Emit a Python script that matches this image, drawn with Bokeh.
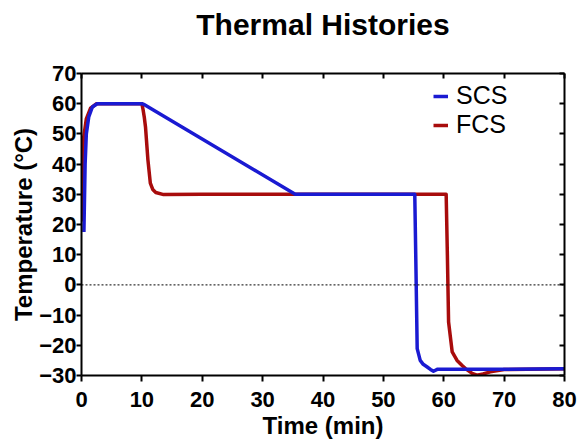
from bokeh.plotting import figure
from bokeh.models import (Range1d, LinearAxis, FixedTicker, Span, Legend, LegendItem, ColumnDataSource)
from bokeh.embed import file_html
from bokeh.resources import INLINE

# ---- data ----
scs_time = [0.4, 0.6, 0.8, 1.2, 1.8, 2.6, 4.0, 10.0, 10.3, 35.4, 40.0, 55.2, 55.4, 55.6, 56.1, 56.6, 57.2, 57.8, 58.3, 59.0, 70.0, 80.0]
scs_temp = [17.5, 40.0, 50.0, 55.6, 58.9, 60.0, 60.0, 60.0, 59.8, 30.0, 30.0, 30.0, 5.0, -21.1, -25.0, -26.3, -27.1, -28.0, -28.6, -27.9, -27.9, -27.8]

fcs_time = [0.0, 0.3, 0.8, 1.5, 2.5, 4.0, 10.0, 10.2, 10.4, 10.6, 11.0, 11.4, 11.8, 12.3, 13.6, 20.0, 60.4, 60.6, 60.8, 61.4, 62.2, 63.0, 63.6, 64.7, 65.5, 66.5, 67.7, 70.0, 80.0]
fcs_temp = [21.0, 48.0, 55.0, 58.5, 60.0, 60.0, 60.0, 58.0, 55.5, 52.3, 41.4, 33.7, 31.6, 30.6, 29.9, 30.0, 30.0, 10.0, -12.3, -22.2, -25.0, -26.6, -27.7, -29.3, -29.9, -29.5, -28.8, -28.0, -27.8]

x_ticks = [0, 10, 20, 30, 40, 50, 60, 70, 80]
y_ticks = [-30, -20, -10, 0, 10, 20, 30, 40, 50, 60, 70]

title_text = "Thermal Histories"

BLUE = "#1a1ad2"
RED = "#a80c0c"
FONT = "Liberation Sans"

p = figure(width=579, height=441, output_backend="svg", toolbar_location=None,
           x_range=Range1d(0, 80), y_range=Range1d(-30, 70),
           min_border_left=81, min_border_right=15, min_border_top=73, min_border_bottom=64)
p.outline_line_color = None
p.xgrid.visible = False
p.ygrid.visible = False
p.background_fill_color = "white"
p.border_fill_color = "white"

def style_axis(ax, ticks, labels=True):
    ax.ticker = FixedTicker(ticks=ticks)
    ax.axis_line_width = 2
    ax.axis_line_color = "black"
    ax.major_tick_line_width = 2
    ax.major_tick_line_color = "black"
    ax.minor_tick_line_color = None
    ax.major_label_text_font = FONT
    ax.major_label_text_font_style = "bold"
    ax.major_label_text_color = "black"
    ax.axis_label_text_font = FONT
    ax.axis_label_text_font_style = "bold"
    ax.axis_label_text_color = "black"
    ax.axis_label_text_font_size = "24px"
    if labels:
        ax.major_label_text_font_size = "22px"
        ax.major_tick_out = 5
        ax.major_tick_in = 0
    else:
        # frame-only axis: inward ticks, tick labels not drawn at all
        ax.major_label_text_font_size = "0px"
        ax.major_label_text_color = None
        ax.major_label_standoff = 0
        ax.major_tick_out = 0
        ax.major_tick_in = 5

xa = p.xaxis[0]
ya = p.yaxis[0]
style_axis(xa, x_ticks)
style_axis(ya, y_ticks)
xa.axis_label = "Time (min)"
ya.axis_label = "Temperature (°C)"
xa.major_tick_out = 6
xa.major_label_standoff = 10
xa.axis_label_standoff = 2
ya.major_label_standoff = 0
ya.axis_label_standoff = -1

# top axis carries the chart title as its label
top = LinearAxis()
style_axis(top, x_ticks, labels=False)
top.axis_label = title_text
top.axis_label_text_font_size = "30px"
top.axis_label_standoff = 33
p.add_layout(top, "above")
right = LinearAxis()
style_axis(right, y_ticks, labels=False)
p.add_layout(right, "right")

p.add_layout(Span(location=0, dimension="width", line_color="black", line_width=1, line_dash="2 2"))

fcs_src = ColumnDataSource(dict(t=fcs_time, T=fcs_temp))
scs_src = ColumnDataSource(dict(t=scs_time, T=scs_temp))
r_fcs = p.line("t", "T", source=fcs_src, line_color=RED, line_width=3.5, line_join="round")
r_scs = p.line("t", "T", source=scs_src, line_color=BLUE, line_width=3.5, line_join="round")

legend = Legend(items=[LegendItem(label="SCS", renderers=[r_scs]),
                       LegendItem(label="FCS", renderers=[r_fcs])],
                location=(352, 236))
legend.border_line_color = None
legend.background_fill_alpha = 0
legend.label_text_font = FONT
legend.label_text_font_size = "25px"
legend.label_text_color = "black"
legend.glyph_width = 15
legend.label_standoff = 8
legend.padding = 5
legend.spacing = -1
legend.margin = 0
p.add_layout(legend, "center")

open("out.html", "w").write(file_html(p, INLINE))
